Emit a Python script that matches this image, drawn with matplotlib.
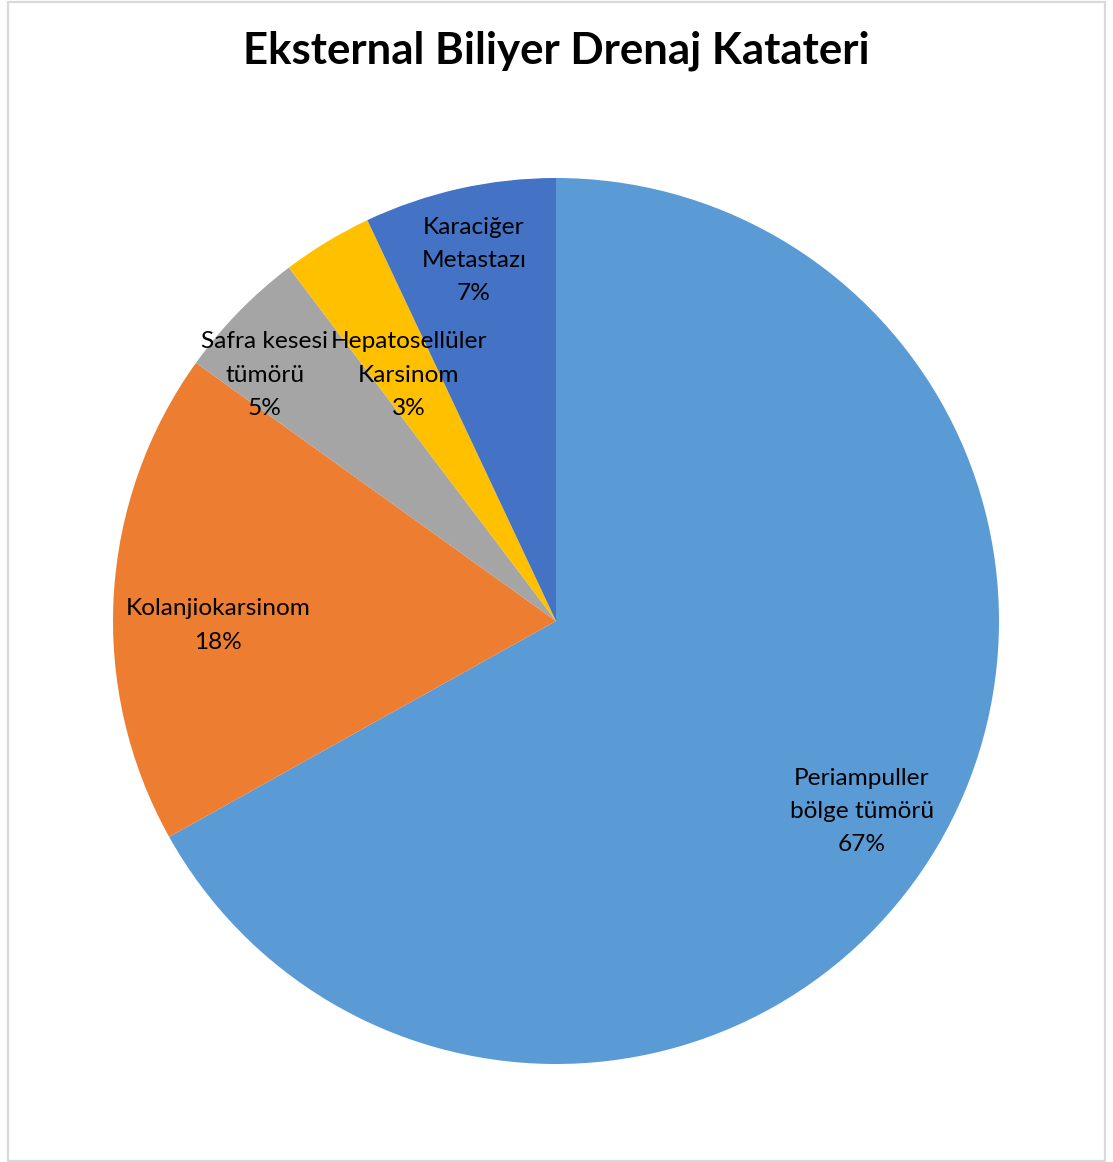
import matplotlib.pyplot as plt
from matplotlib.patches import Rectangle

title = "Eksternal Biliyer Drenaj Katateri"
labels = ["Periampuller\nbölge tümörü", "Kolanjiokarsinom", "Safra kesesi\ntümörü",
          "Hepatosellüler\nKarsinom", "Karaciğer\nMetastazı"]
shares = [66.9, 18.0, 4.8, 3.3, 7.0]
colors = ["#5B9BD5", "#ED7D31", "#A5A5A5", "#FFC000", "#4472C4"]

# label centres in pie units (radius 1), as Excel placed them
label_pos = [(0.69, -0.43), (-0.763, -0.01), (-0.657, 0.555), (-0.332, 0.555), (-0.185, 0.814)]

plt.rcParams['font.family'] = ['Lato', 'DejaVu Sans']

W, H = 1113, 1162
fig = plt.figure(figsize=(W / 100, H / 100), dpi=100)

# chart border
fig.patches.append(Rectangle((8 / W, 1 / H), 1097 / W, 1159 / H, transform=fig.transFigure,
                             fill=False, edgecolor="#D9D9D9", linewidth=1.6))

cx, cy, r = 556, 1162 - 621, 443
ax = fig.add_axes([(cx - r) / W, (cy - r) / H, 2 * r / W, 2 * r / H])
ax.pie(shares, colors=colors, startangle=90, counterclock=False, radius=1,
       wedgeprops=dict(linewidth=0))
ax.set_xlim(-1, 1)
ax.set_ylim(-1, 1)
ax.set_aspect('equal')
ax.axis('off')

total = sum(shares)
for lab, n, (x, y) in zip(labels, shares, label_pos):
    pct = round(100 * n / total)
    ax.text(x, y, f"{lab}\n{pct}%", ha='center', va='center', fontsize=17.6,
            color='black', linespacing=1.72)

fig.text(0.5, 1 - 51 / H, title, ha='center', va='center', fontsize=31.5, fontweight='bold')

fig.savefig("out.png", dpi=100)
